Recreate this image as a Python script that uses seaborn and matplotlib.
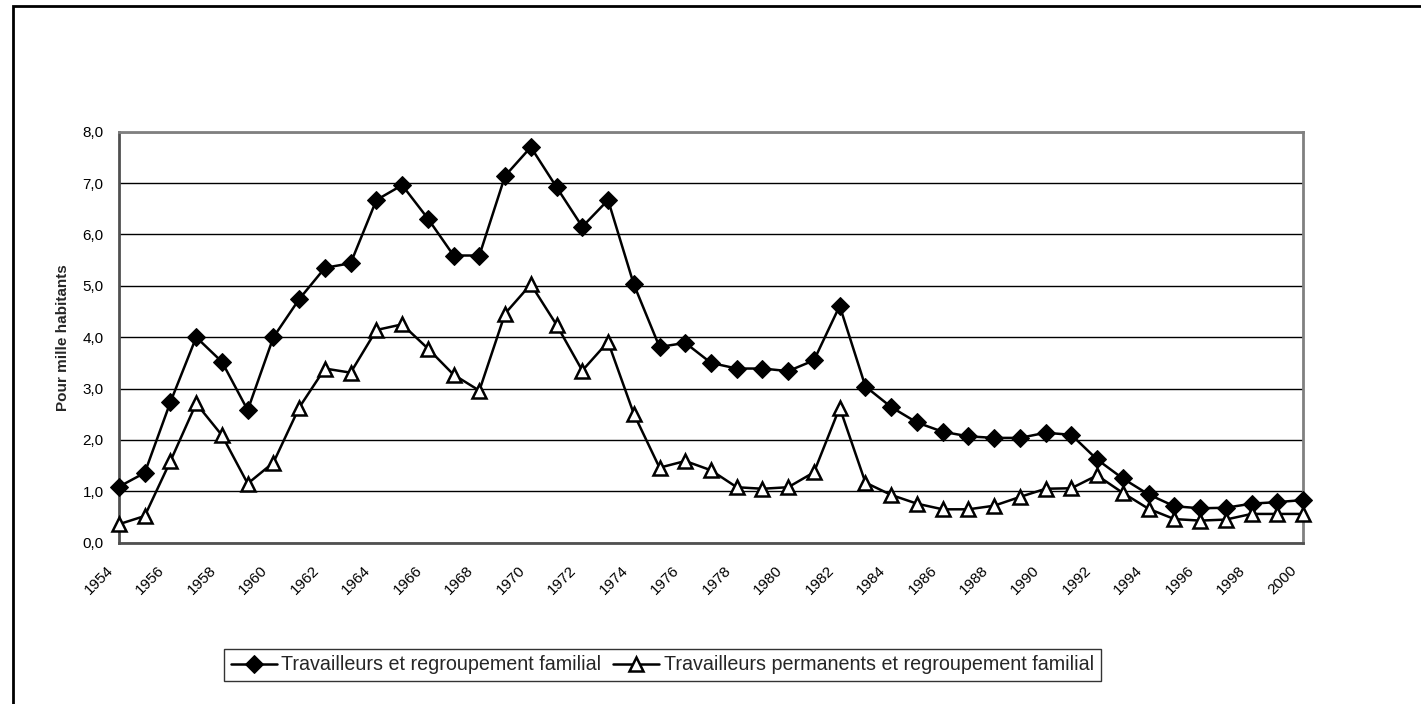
import matplotlib
matplotlib.use("Agg")
import matplotlib.pyplot as plt
import seaborn as sns
import pandas as pd
from matplotlib.ticker import FixedLocator, FuncFormatter
from matplotlib.patches import Rectangle
from matplotlib.transforms import ScaledTranslation

years = list(range(1954, 2001))
travailleurs = [1.09, 1.36, 2.74, 4.00, 3.52, 2.58, 4.00, 4.74, 5.35, 5.44,
                6.67, 6.96, 6.31, 5.59, 5.59, 7.14, 7.70, 6.92, 6.15, 6.67,
                5.03, 3.81, 3.89, 3.50, 3.39, 3.39, 3.34, 3.55, 4.61, 3.04,
                2.64, 2.34, 2.16, 2.07, 2.04, 2.04, 2.14, 2.10, 1.62, 1.25,
                0.94, 0.71, 0.67, 0.68, 0.76, 0.79, 0.83]
permanents = [0.36, 0.52, 1.59, 2.71, 2.09, 1.15, 1.56, 2.63, 3.39, 3.31,
              4.14, 4.25, 3.78, 3.27, 2.96, 4.46, 5.03, 4.24, 3.35, 3.91,
              2.51, 1.46, 1.59, 1.41, 1.08, 1.05, 1.08, 1.37, 2.63, 1.17,
              0.93, 0.76, 0.65, 0.65, 0.72, 0.89, 1.05, 1.06, 1.31, 0.97,
              0.66, 0.46, 0.43, 0.45, 0.56, 0.56, 0.56]
series_names = ["Travailleurs et regroupement familial",
                "Travailleurs permanents et regroupement familial"]
y_ticks = [0, 1, 2, 3, 4, 5, 6, 7, 8]
x_label_years = list(range(1954, 2001, 2))
y_label = "Pour mille habitants"

df = pd.DataFrame({"annee": years, "s1": travailleurs, "s2": permanents})

sns.set_style("white")
plt.rcParams["font.family"] = ["Liberation Sans", "DejaVu Sans"]

fig = plt.figure(figsize=(14.21, 7.04), dpi=100)
ax = fig.add_axes([119 / 1421, 1 - 542.7 / 704, (1303 - 119) / 1421, (542.7 - 131.7) / 704])

sns.lineplot(data=df, x="annee", y="s1", ax=ax, color="black", linewidth=1.8,
             marker="D", markersize=9, markerfacecolor="black",
             markeredgecolor="black", label=series_names[0], clip_on=False, zorder=5)
sns.lineplot(data=df, x="annee", y="s2", ax=ax, color="black", linewidth=1.8,
             marker="^", markersize=10.5, markerfacecolor="white",
             markeredgecolor="black", markeredgewidth=1.8,
             label=series_names[1], clip_on=False, zorder=5)

ax.set_xlim(1954, 2000)
ax.set_ylim(0, 8)
ax.yaxis.set_major_locator(FixedLocator(y_ticks))
ax.yaxis.set_major_formatter(FuncFormatter(lambda v, p: f"{v:.1f}".replace(".", ",")))
ax.xaxis.set_major_locator(FixedLocator(years))
ax.set_xticklabels([str(y) if y in x_label_years else "" for y in years],
                   rotation=45, ha="right", va="top", rotation_mode="anchor")
ax.tick_params(axis="both", direction="out", length=5, width=1, color="#404040",
               labelsize=11, labelcolor="black")
ax.tick_params(axis="y", pad=6)
ax.tick_params(axis="x", pad=6)
shift = ScaledTranslation(-13 / 100, -5 / 100, fig.dpi_scale_trans)
for lab in ax.get_xticklabels():
    lab.set_transform(lab.get_transform() + shift)
ax.grid(axis="y", color="black", linewidth=1)
ax.set_axisbelow(True)
for side, sp in ax.spines.items():
    sp.set_visible(True)
    sp.set_color("#808080")
    sp.set_linewidth(2)
ax.spines["left"].set_color("#505050")
ax.spines["bottom"].set_color("#505050")
ax.set_xlabel("")
ax.set_ylabel(y_label, fontsize=11, fontweight="bold")
ax.yaxis.set_label_coords(-0.0414, 0.5)

ax.legend(loc="center", bbox_to_anchor=(662.5 / 1421, 1 - 665 / 704),
          bbox_transform=fig.transFigure, ncol=2, frameon=True, fancybox=False,
          edgecolor="black", fontsize=14.2, handlelength=2.3, handletextpad=0.25,
          columnspacing=0.6, borderpad=0.35, borderaxespad=0)
leg = ax.get_legend()
leg.get_frame().set_linewidth(1)

fig.patches.append(Rectangle((12.7 / 1421, -0.1), 1.2, 1.1 - 6 / 704,
                             transform=fig.transFigure, fill=False,
                             edgecolor="black", linewidth=2, clip_on=False))

fig.savefig("out.png", dpi=100, facecolor="white")
